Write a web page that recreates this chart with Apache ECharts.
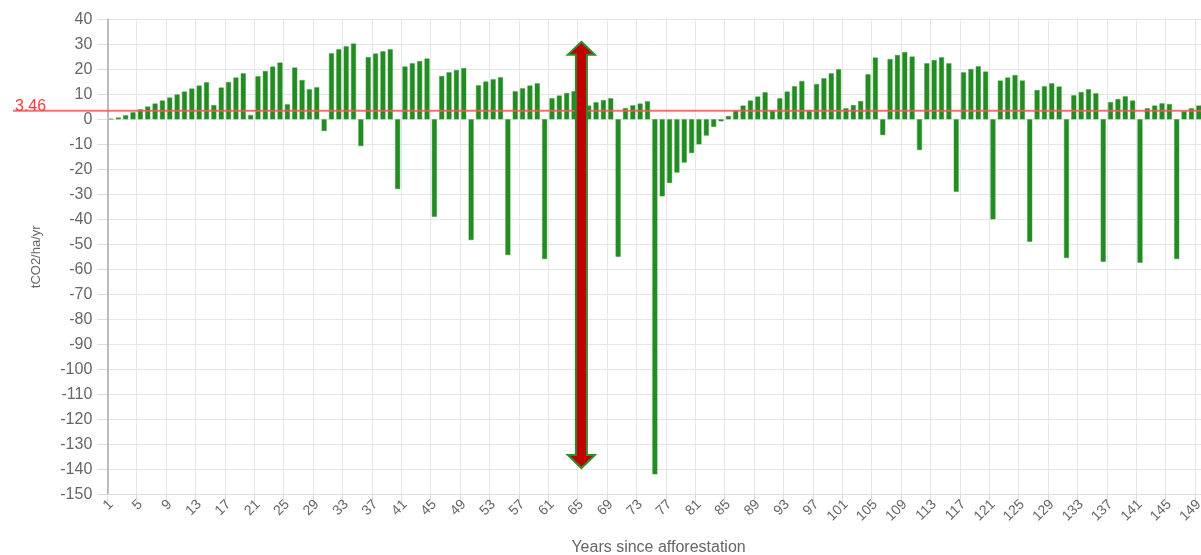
<!DOCTYPE html>
<html><head><meta charset="utf-8">
<script src="https://cdn.jsdelivr.net/npm/echarts@6/dist/echarts.min.js"></script>
<style>html,body{margin:0;padding:0;background:#fff}#c{width:1201px;height:555px}</style>
</head><body><div id="c"></div>
<script>
const categories = ['1','2','3','4','5','6','7','8','9','10','11','12','13','14','15','16','17','18','19','20',
'21','22','23','24','25','26','27','28','29','30','31','32','33','34','35','36','37','38','39','40',
'41','42','43','44','45','46','47','48','49','50','51','52','53','54','55','56','57','58','59','60',
'61','62','63','64','65','66','67','68','69','70','71','72','73','74','75','76','77','78','79','80',
'81','82','83','84','85','86','87','88','89','90','91','92','93','94','95','96','97','98','99','100',
'101','102','103','104','105','106','107','108','109','110','111','112','113','114','115','116','117','118','119','120',
'121','122','123','124','125','126','127','128','129','130','131','132','133','134','135','136','137','138','139','140',
'141','142','143','144','145','146','147','148','149','150'];

const values = [
 0.2, 0.7, 1.6, 2.8, 4.0, 5.1, 6.3, 7.5, 8.7, 9.9,
 11.1, 12.3, 13.5, 14.8, 5.7, 12.7, 14.9, 16.7, 18.4, 1.7,
 17.2, 19.3, 21.1, 22.7, 6.0, 20.7, 15.7, 12.0, 12.8, -4.7,
 26.4, 28.0, 29.2, 30.3, -10.7, 24.9, 26.3, 27.2, 28.0, -27.9,
 21.1, 22.4, 23.3, 24.3, -39.0, 17.3, 18.8, 19.7, 20.5, -48.3,
 13.6, 15.1, 16.0, 16.8, -54.3, 11.2, 12.4, 13.5, 14.4, -55.9,
 8.4, 9.5, 10.5, 11.2, -56.0, 5.5, 6.8, 7.7, 8.4, -55.0,
 4.5, 5.6, 6.3, 7.2, -142.0, -30.8, -25.5, -21.3, -17.3, -13.5,
 -10.0, -6.5, -3.0, -0.8, 1.3, 3.5, 5.5, 7.5, 9.1, 10.8,
 3.5, 8.4, 11.1, 13.2, 15.3, 3.7, 14.1, 16.4, 18.4, 20.0,
 4.4, 5.7, 7.3, 18.0, 24.7, -6.3, 24.1, 25.7, 26.9, 25.1,
 -12.3, 22.4, 23.7, 24.8, 22.4, -29.0, 18.8, 20.1, 21.2, 19.1,
 -40.0, 15.5, 16.7, 17.7, 15.5, -49.0, 11.7, 13.2, 14.4, 13.1,
 -55.5, 9.6, 10.9, 12.0, 10.4, -57.0, 6.9, 8.1, 9.2, 7.5,
 -57.4, 4.4, 5.5, 6.4, 6.1, -55.9, 3.3, 4.4, 5.5, 6.0
];

const yMin = -150, yMax = 40, yInterval = 10;
const refValue = 3.46;
const refLabel = '3.46';
const arrowCategory = '65';
const arrowTop = 31;
const arrowBottom = -139.5;
const titleText = 'Annual removals/emissions over 2 rotations';
const xName = 'Years since afforestation';
const yName = 'tCO2/ha/yr';

const chart = echarts.init(document.getElementById('c'), null, {renderer:'canvas'});
const font = 'Liberation Sans, Arial, sans-serif';
const gridCol = '#e6e6e6';

chart.setOption({
  animation: false,
  textStyle: {fontFamily: font},
  title: {
    text: titleText, left: 655, top: -22,
    textStyle: {color: '#b8b8b8', fontSize: 22, fontWeight: 'normal', fontFamily: font}
  },
  grid: {left: 107.3, top: 19.3, width: 1102.5, height: 475, containLabel: false, outerBoundsMode: 'none'},
  xAxis: {
    type: 'category', data: categories, boundaryGap: true,
    axisLine: {show: true, onZero: false, lineStyle: {color: '#dcdcdc'}},
    axisTick: {show: true, interval: 3, length: 10, lineStyle: {color: '#dcdcdc'}},
    axisLabel: {interval: 3, rotate: 45, color: '#666', fontSize: 14, margin: 8, fontFamily: font},
    splitLine: {show: true, interval: 3, lineStyle: {color: gridCol}},
    name: xName, nameLocation: 'middle', nameGap: 45,
    nameTextStyle: {color: '#666', fontSize: 16, fontFamily: font}
  },
  yAxis: {
    type: 'value', min: yMin, max: yMax, interval: yInterval,
    axisLine: {show: true, lineStyle: {color: '#aaaaaa', width: 1.5}},
    axisTick: {show: true, length: 10, lineStyle: {color: '#dcdcdc'}},
    axisLabel: {color: '#666', fontSize: 16, margin: 15, fontFamily: font},
    splitLine: {show: true, lineStyle: {color: gridCol}},
    name: yName, nameLocation: 'middle', nameGap: 64,
    nameTextStyle: {color: '#666', fontSize: 13, fontFamily: font}
  },
  series: [
    {
      type: 'bar', data: values, barWidth: 5,
      itemStyle: {color: '#228b22', borderColor: '#3c9c3c', borderWidth: 0.5},
      z: 2
    },
    {
      type: 'custom', z: 10, clip: false,
      data: [[arrowCategory, arrowTop, arrowBottom]],
      encode: {x: 0, y: [1, 2]},
      renderItem: function (params, api) {
        const t = api.coord([api.value(0), api.value(1)]);
        const b = api.coord([api.value(0), api.value(2)]);
        const x = t[0], sw = 5.5, hw = 13.5, hl = 13;
        const pts = [
          [x, t[1]], [x + hw, t[1] + hl], [x + sw, t[1] + hl], [x + sw, b[1] - hl],
          [x + hw, b[1] - hl], [x, b[1]], [x - hw, b[1] - hl], [x - sw, b[1] - hl],
          [x - sw, t[1] + hl], [x - hw, t[1] + hl]
        ];
        return {type: 'polygon', shape: {points: pts},
          style: {fill: '#c00000', stroke: '#2e8b2e', lineWidth: 2, lineJoin: 'miter'}};
      }
    }
  ]
});

const yRef = chart.convertToPixel({yAxisIndex: 0}, refValue);
chart.setOption({
  graphic: [
    {type: 'line', z: 5, shape: {x1: 13, y1: yRef, x2: 1201, y2: yRef},
     style: {stroke: 'rgba(255,85,85,0.85)', lineWidth: 2}},
    {type: 'text', z: 5, x: 15, y: yRef - 4,
     style: {text: refLabel, fill: '#ff3b3b', font: '16px ' + font, verticalAlign: 'middle', align: 'left'}}
  ]
});
</script></body></html>
